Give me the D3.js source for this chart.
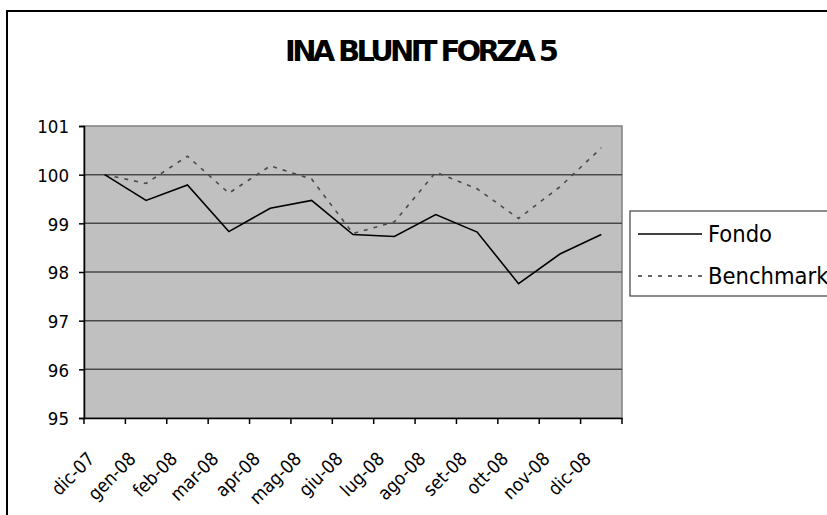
<!DOCTYPE html>
<html><head><meta charset="utf-8">
<script src="https://cdn.jsdelivr.net/npm/d3@7"></script>
<style>body{margin:0;background:#fff}svg{display:block}</style>
</head><body>
<svg id="c" width="827" height="515"></svg>
<script>
const categories = ["dic-07","gen-08","feb-08","mar-08","apr-08","mag-08","giu-08","lug-08","ago-08","set-08","ott-08","nov-08","dic-08"];
const fondo = [100.0, 99.47, 99.79, 98.83, 99.31, 99.47, 98.77, 98.73, 99.18, 98.82, 97.76, 98.37, 98.77];
const benchmark = [100.0, 99.82, 100.38, 99.62, 100.18, 99.91, 98.79, 99.03, 100.05, 99.71, 99.10, 99.75, 100.55];
const yTicks = [95, 96, 97, 98, 99, 100, 101];
const title = "INA BLUNIT FORZA 5";
const seriesNames = ["Fondo", "Benchmark"];

const svg = d3.select("#c");
const L = 84, R = 622, T = 126, B = 418;
const font = "'DejaVu Sans Condensed','DejaVu Sans',sans-serif";

// outer chart border
svg.append("path").attr("d", `M7,516 V11 H828`).attr("fill","none").attr("stroke","#000").attr("stroke-width",2);

// title
svg.append("text").attr("x", 422).attr("y", 61).attr("text-anchor","middle")
  .attr("font-family","'DejaVu Sans',sans-serif").attr("font-weight","bold").attr("font-size",29)
  .attr("textLength", 274).attr("lengthAdjust","spacing").text(title);

const x = d3.scaleBand().domain(categories).range([L, R]);
const y = d3.scaleLinear().domain([95, 101]).range([B, T]);

// plot background
svg.append("rect").attr("x", L).attr("y", T).attr("width", R-L).attr("height", B-T)
  .attr("fill","#c0c0c0").attr("stroke","#808080").attr("stroke-width",1.5);

// gridlines
svg.append("g").selectAll("line").data(yTicks.filter(d=>d>95 && d<101)).join("line")
  .attr("x1", L).attr("x2", R).attr("y1", d=>y(d)).attr("y2", d=>y(d))
  .attr("stroke","#4a4a4a").attr("stroke-width",1.5);

// y axis
const ya = svg.append("g").attr("transform",`translate(${L},0)`)
  .call(d3.axisLeft(y).tickValues(yTicks).tickSize(5).tickPadding(10).tickFormat(d3.format("d")));
ya.select(".domain").attr("stroke","#000").attr("stroke-width",1.5);
ya.selectAll(".tick line").attr("stroke","#000").attr("stroke-width",1.5);
ya.selectAll("text").attr("font-family",font).attr("font-size",18.5).attr("fill","#000").attr("dy","0.36em");

// x axis
const xa = svg.append("g").attr("transform",`translate(0,${B})`)
  .call(d3.axisBottom(x).tickSize(0).tickFormat(""));
xa.select(".domain").attr("stroke","#000").attr("stroke-width",1.5);
const bounds = categories.map(c => x(c)).concat([R]);
svg.append("g").selectAll("line").data(bounds).join("line")
  .attr("x1", d=>d).attr("x2", d=>d).attr("y1", B).attr("y2", B+6)
  .attr("stroke","#000").attr("stroke-width",1.5);
svg.append("g").selectAll("text").data(categories).join("text")
  .attr("transform", d => `translate(${x(d)+x.bandwidth()/2-9},460) rotate(-45)`)
  .attr("text-anchor","end").attr("font-family",font).attr("font-size",18.5).attr("fill","#000")
  .text(d=>d);

// lines
const line = d3.line().x((d,i)=>x(categories[i])+x.bandwidth()/2).y(d=>y(d));
svg.append("path").datum(benchmark).attr("d", line).attr("fill","none")
  .attr("stroke","#4a4a4a").attr("stroke-width",1.6).attr("stroke-dasharray","4,6");
svg.append("path").datum(fondo).attr("d", line).attr("fill","none")
  .attr("stroke","#000").attr("stroke-width",1.6);

// legend
const lg = svg.append("g");
lg.append("rect").attr("x",630).attr("y",211).attr("width",220).attr("height",85)
  .attr("fill","#fff").attr("stroke","#404040").attr("stroke-width",1.2);
const rows = [{name:seriesNames[0], dash:null, color:"#000", yy:234},{name:seriesNames[1], dash:"4,6", color:"#333", yy:276}];
rows.forEach(r=>{
  lg.append("line").attr("x1",638).attr("x2",702).attr("y1",r.yy).attr("y2",r.yy)
    .attr("stroke",r.color).attr("stroke-width",1.6).attr("stroke-dasharray",r.dash);
  lg.append("text").attr("x",708).attr("y",r.yy).attr("dy","0.35em")
    .attr("font-family",font).attr("font-size",23.5).attr("fill","#000").text(r.name);
});
</script>
</body></html>
